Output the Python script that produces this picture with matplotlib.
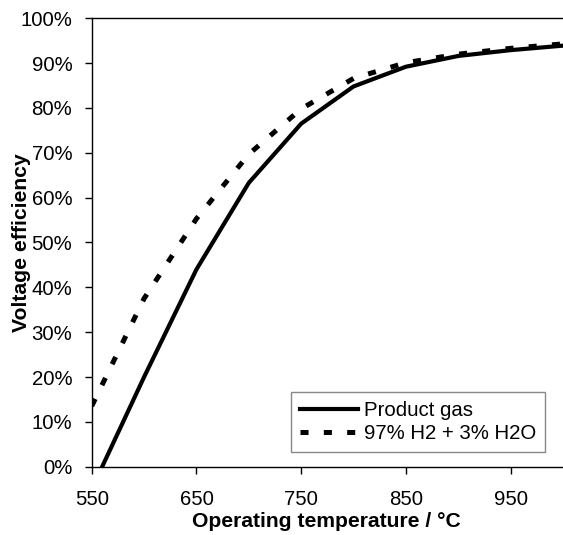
import matplotlib
matplotlib.use("Agg")
import matplotlib.pyplot as plt
from matplotlib.ticker import FuncFormatter

plt.rcParams['font.family'] = ['Liberation Sans', 'DejaVu Sans']
plt.rcParams['lines.scale_dashes'] = False

temperature = [550, 600, 650, 700, 750, 800, 850, 900, 950, 1000]
product_gas = [-0.05, 0.20, 0.44, 0.633, 0.765, 0.848, 0.892, 0.916, 0.929, 0.939]
h2_h2o = [0.135, 0.375, 0.553, 0.697, 0.798, 0.866, 0.901, 0.920, 0.933, 0.943]
series_labels = ["Product gas", "97% H2 + 3% H2O"]
xticks = [550, 650, 750, 850, 950]
yticks = [0.0, 0.1, 0.2, 0.3, 0.4, 0.5, 0.6, 0.7, 0.8, 0.9, 1.0]

fig = plt.figure(figsize=(5.63, 5.35), dpi=100)
ax = fig.add_axes([0.1629, 0.1277, 0.8371, 0.8381])

ax.plot(temperature, product_gas, color='black', lw=3.0, solid_joinstyle='miter',
        label=series_labels[0])
ax.plot(temperature, h2_h2o, color='black', lw=3.6, linestyle=(0, (5.8, 11.0)),
        dash_capstyle='butt', label=series_labels[1])

ax.set_xlim(550, 1000)
ax.set_ylim(0, 1.0)
ax.set_xticks(xticks)
ax.set_yticks(yticks)
ax.yaxis.set_major_formatter(FuncFormatter(lambda v, p: f"{v*100:.0f}%"))
ax.tick_params(axis='both', direction='out', length=5, width=1, colors='black',
               labelsize=14.7)
ax.tick_params(axis='x', pad=12)
ax.tick_params(axis='y', pad=9)

for s in ['left', 'bottom', 'top']:
    ax.spines[s].set_linewidth(1.0)
    ax.spines[s].set_color('black')
ax.spines['right'].set_visible(False)

ax.set_xlabel("Operating temperature / °C", fontsize=15.2, fontweight='bold', va='center')
ax.xaxis.set_label_coords(0.497, -0.123)
ax.set_ylabel("Voltage efficiency", fontsize=15.2, fontweight='bold', va='center')
ax.yaxis.set_label_coords(-0.150, 0.5)

leg = ax.legend(loc='lower right', bbox_to_anchor=(545/563, (535-452)/535),
                bbox_transform=fig.transFigure, fontsize=14.7, frameon=True,
                fancybox=False, edgecolor='#888888', framealpha=1,
                handlelength=2.85, handletextpad=0.25, borderpad=0.45,
                labelspacing=0.2, borderaxespad=0)
leg.get_frame().set_linewidth(1.0)

fig.savefig("out.png", dpi=100)
